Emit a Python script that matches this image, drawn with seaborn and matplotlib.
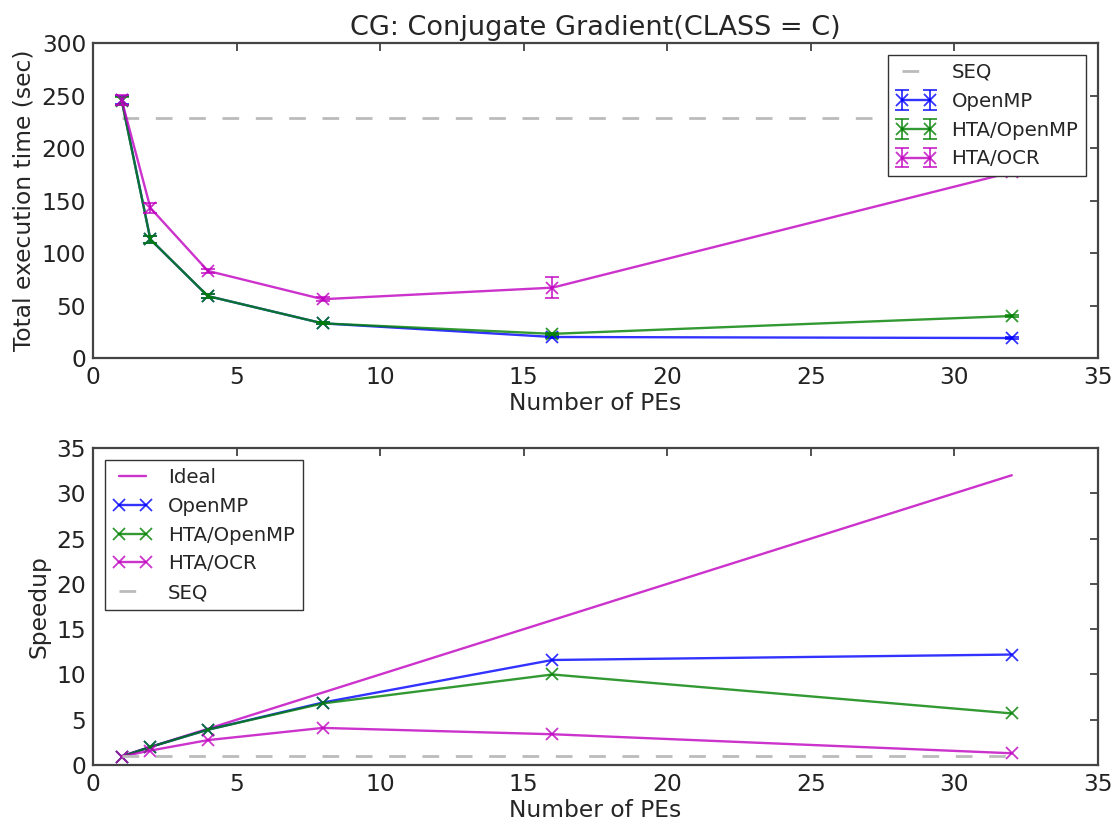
import numpy as np
import pandas as pd
import matplotlib
matplotlib.use("Agg")
import matplotlib.pyplot as plt
from matplotlib.lines import Line2D
import seaborn as sns

# Processing elements
pes = [1, 2, 4, 8, 16, 32]

# Total execution time (sec)
seq_time = 229
time_openmp = [246, 113, 59, 33, 20, 19]
time_hta_openmp = [245, 113, 59, 33, 23, 40]
time_hta_ocr = [246, 143, 83, 56, 67, 177]

# Spread of the timing runs
err_openmp = [4, 3, 2, 1, 1, 1]
err_hta_openmp = [4, 3, 2, 1, 1, 1]
err_hta_ocr = [5, 5, 2, 2, 10, 2]

# Speedup over the sequential run
ideal = [1, 2, 4, 8, 16, 32]
speedup_openmp = [0.93, 2.0, 3.9, 6.9, 11.6, 12.2]
speedup_hta_openmp = [0.93, 2.0, 3.9, 6.8, 10.0, 5.7]
speedup_hta_ocr = [0.93, 1.6, 2.75, 4.1, 3.4, 1.3]
speedup_seq = [1, 1, 1, 1, 1, 1]

series_names = ["OpenMP", "HTA/OpenMP", "HTA/OCR"]
colors = {"OpenMP": "#0000ff", "HTA/OpenMP": "#008000", "HTA/OCR": "#c000c0"}

sns.set_style("white")
plt.rcParams.update({
    "font.family": ["DejaVu Sans"],
    "xtick.direction": "in",
    "ytick.direction": "in",
    "xtick.top": True,
    "ytick.right": True,
    "xtick.major.size": 6,
    "ytick.major.size": 6,
    "xtick.major.width": 1.2,
    "ytick.major.width": 1.2,
    "xtick.major.pad": 6,
    "ytick.major.pad": 5,
    "xtick.color": "#333333",
    "ytick.color": "#333333",
    "xtick.labelcolor": "#222222",
    "ytick.labelcolor": "#222222",
    "axes.edgecolor": "#444444",
    "axes.linewidth": 1.6,
    "legend.fancybox": False,
    "legend.edgecolor": "#333333",
    "legend.framealpha": 1.0,
    "legend.numpoints": 2,
})

FS = 16.8
LFS = 14.2
LW = 1.7
MS = 9
MEW = 1.3

fig = plt.figure(figsize=(11.16, 8.22), dpi=100)
ax1 = fig.add_axes([0.0833, 0.5645, 0.9005, 0.383])
ax2 = fig.add_axes([0.0833, 0.0693, 0.9005, 0.3856])

times = pd.DataFrame({
    "PEs": pes * 3,
    "time": time_openmp + time_hta_openmp + time_hta_ocr,
    "err": err_openmp + err_hta_openmp + err_hta_ocr,
    "impl": sum([[n] * len(pes) for n in series_names], []),
})

# Top panel: execution time
seq_line, = ax1.plot([pes[0], pes[-1]], [seq_time, seq_time],
                     color="#bbbbbb", lw=2.0, linestyle=(0, (6, 6)), label="SEQ")
leg_handles = [seq_line]
for name in series_names:
    sub = times[times["impl"] == name]
    sns.lineplot(data=sub, x="PEs", y="time", ax=ax1, color=colors[name],
                 marker="x", markersize=MS, markeredgewidth=MEW,
                 markeredgecolor=colors[name], lw=LW, alpha=0.8,
                 errorbar=None, legend=False)
    cont = ax1.errorbar(sub["PEs"], sub["time"], yerr=sub["err"], fmt="none",
                        ecolor=colors[name], elinewidth=1.3, capsize=5,
                        capthick=1.3, alpha=0.8)
    ln = Line2D([], [], color=colors[name], marker="x", markersize=MS,
                markeredgewidth=MEW, lw=LW, alpha=0.8)
    leg_handles.append((ln, cont))

ax1.legend(leg_handles, ["SEQ"] + series_names, loc="upper right",
           fontsize=LFS, handlelength=2.0, borderaxespad=0.6,
           labelspacing=0.5, handletextpad=0.8)

ax1.set_xlim(0, 35)
ax1.set_ylim(0, 300)
ax1.set_xticks(np.arange(0, 36, 5))
ax1.set_yticks(np.arange(0, 301, 50))
ax1.tick_params(labelsize=FS)
ax1.set_xlabel("Number of PEs", fontsize=FS, labelpad=2)
ax1.set_ylabel("Total execution time (sec)", fontsize=FS)
ax1.set_title("CG: Conjugate Gradient(CLASS = C)", fontsize=19.5, pad=6)

# Bottom panel: speedup
speed = pd.DataFrame({
    "PEs": pes * 3,
    "speedup": speedup_openmp + speedup_hta_openmp + speedup_hta_ocr,
    "impl": sum([[n] * len(pes) for n in series_names], []),
})

sns.lineplot(x=pes, y=ideal, ax=ax2, color=colors["HTA/OCR"], lw=LW,
             alpha=0.8, label="Ideal")
for name in series_names:
    sub = speed[speed["impl"] == name]
    sns.lineplot(data=sub, x="PEs", y="speedup", ax=ax2, color=colors[name],
                 marker="x", markersize=MS, markeredgewidth=MEW,
                 markeredgecolor=colors[name], lw=LW, alpha=0.8,
                 errorbar=None, label=name)
sns.lineplot(x=pes, y=speedup_seq, ax=ax2, color="#bbbbbb", lw=2.0,
             label="SEQ")
ax2.lines[-1].set_linestyle((0, (6, 6)))
ax2.legend(loc="upper left", fontsize=LFS, handlelength=2.0,
           borderaxespad=0.6, labelspacing=0.5, handletextpad=0.8)

ax2.set_xlim(0, 35)
ax2.set_ylim(0, 35)
ax2.set_xticks(np.arange(0, 36, 5))
ax2.set_yticks(np.arange(0, 36, 5))
ax2.tick_params(labelsize=FS)
ax2.set_xlabel("Number of PEs", fontsize=FS, labelpad=2)
ax2.set_ylabel("Speedup", fontsize=FS)

for ax in (ax1, ax2):
    for s in ax.spines.values():
        s.set_visible(True)

fig.savefig("out.png", dpi=100, facecolor="white")
